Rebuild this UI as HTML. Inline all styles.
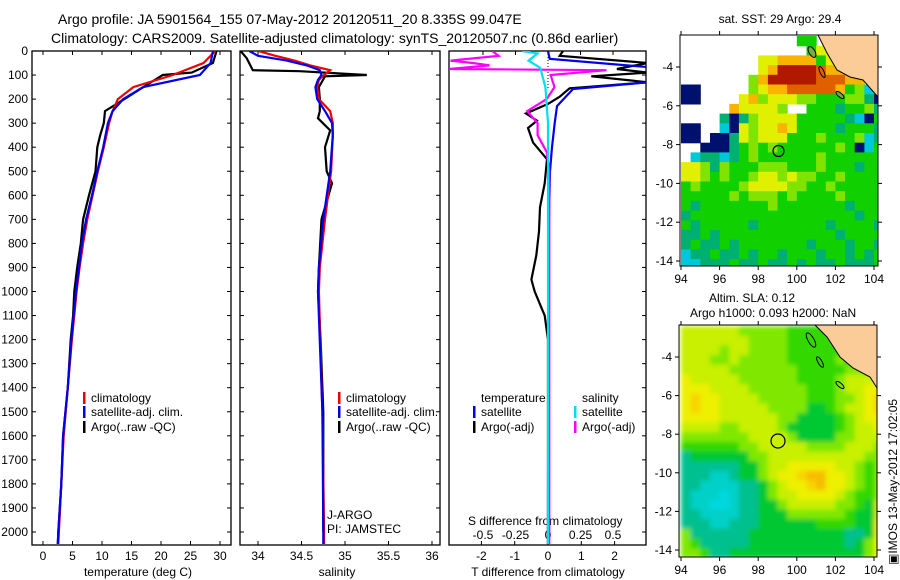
<!DOCTYPE html>
<html><head><meta charset="utf-8"><style>
html,body{margin:0;padding:0;background:#fff}
svg{display:block;font-family:"Liberation Sans",sans-serif;font-size:12px}
</style></head><body>
<svg id="s" width="900" height="580" viewBox="0 0 900 580">
<defs>
<clipPath id="c1"><rect x="32" y="51" width="199" height="494"/></clipPath>
<clipPath id="c2"><rect x="240" y="51" width="200" height="494"/></clipPath>
<clipPath id="c3"><rect x="449" y="51" width="197" height="494"/></clipPath>
<clipPath id="cm1"><rect x="680" y="35" width="198" height="231"/></clipPath>
<clipPath id="cm2"><rect x="679" y="325" width="198" height="232"/></clipPath>
<filter id="bl"><feGaussianBlur stdDeviation="2.5"/></filter>
</defs>
<text x="58" y="24" style="font-size:14px">Argo profile: JA 5901564_155 07-May-2012 20120511_20 8.335S 99.047E</text>
<text x="51" y="43" style="font-size:14px">Climatology: CARS2009. Satellite-adjusted climatology: synTS_20120507.nc (0.86d earlier)</text>
<text x="780" y="23" text-anchor="middle">sat. SST: 29 Argo: 29.4</text>
<text x="709" y="302">Altim. SLA: 0.12</text>
<text x="690" y="317">Argo h1000: 0.093 h2000: NaN</text>
<text transform="translate(897,565) rotate(-90)">&#9635;IMOS 13-May-2012 17:02:05</text>
<g id="g"></g>
</svg>
<script>
const tDepth=[0,50,100,150,200,250,300,400,500,600,700,800,900,1000,1200,1400,1600,1800,2000,2050];
const tClim=[29.2,27.2,22,15.3,12.7,11.8,11.2,10.3,9.3,8.4,7.5,6.8,6.2,5.7,4.9,4.2,3.5,3.1,2.7,2.6];
const tSat=[28.8,28.4,26.6,17,13.6,11.8,11,10.2,9.2,8.3,7.3,6.6,6.1,5.6,4.8,4.2,3.4,3.1,2.6,2.5];
const tArgoDepth=[0,50,90,100,150,200,250,300,350,400,500,600,700,800,900,1000,1100,1200,1400,1600,1800,2000,2050];
const tArgo=[29.4,28.8,25.2,20.3,17,13.8,10.5,10.3,9.7,9.2,8.9,7.8,6.8,6.4,5.8,5.3,5.1,4.7,4.2,3.4,3.1,2.6,2.5];
const sDepth=[0,20,40,60,80,100,120,150,200,250,300,350,500,700,900,1000,1500,2000,2050];
const sSat=[33.9,34.0,34.33,34.56,34.71,34.73,34.69,34.66,34.68,34.77,34.85,34.86,34.83,34.75,34.7,34.69,34.74,34.75,34.75];
const sClim=[34.0,34.2,34.42,34.6,34.83,34.76,34.7,34.68,34.7,34.83,34.86,34.86,34.84,34.77,34.71,34.7,34.74,34.76,34.76];
const sArgoDepth=[0,30,80,84,100,105,150,200,250,280,330,400,500,550,700,900,1000,1200,1500,2000];
const sArgo=[33.8,33.87,33.94,34.48,35.25,34.77,34.7,34.71,34.71,34.69,34.83,34.77,34.79,34.85,34.73,34.7,34.69,34.72,34.75,34.75];
const dtSatDepth=[0,33,67,130,158,229,300,400,500,700,1000,2050];
const dtSat=[0,0.05,3,3,0.75,0.27,0.2,0.12,0.06,0.03,0.01,0];
const dtArgoDepth=[0,20,50,75,90,105,130,155,190,220,260,290,320,380,450,550,650,750,850,950,1000,1100,1200,1500,2050];
const dtArgo=[0.45,0.35,3,2.07,3,1.3,3,0.65,0.35,0,-0.66,-0.33,-0.6,-0.45,-0.03,-0.1,-0.24,-0.27,-0.35,-0.5,-0.4,-0.1,0,0,0];
const dsSatDepth=[0,10,40,70,150,300,2050];
const dsSat=[-0.2,-0.08,-0.15,-0.06,-0.02,0,0];
const dsArgoDepth=[0,20,40,50,60,75,80,100,150,200,250,300,350,420,500,2050];
const dsArgo=[-0.43,-0.38,-0.75,-0.58,-0.45,-0.76,0.45,0.02,0.05,-0.01,-0.16,-0.08,-0.08,-0.01,0.01,0.01];
const depthTicks=[0,100,200,300,400,500,600,700,800,900,1000,1100,1200,1300,1400,1500,1600,1700,1800,1900,2000];
const tTicks=[0,5,10,15,20,25,30];
const sTicks=[34,34.5,35,35.5,36];
const dtTicks=[-2,-1,0,1,2];
const dsTicks=[-0.5,-0.25,0,0.25,0.5];
const lonTicks=[94,96,98,100,102,104];
const latTicks=[-4,-6,-8,-10,-12,-14];
const sstRows=[
"............gg.......",
".............gyyo....",
"........yyoooogyoo...",
"........yoRRRRroooo..",
".......loRRRRRrrroo..",
"NN.....lyoorrrrroglcl",
"NN....yolyyyllggglltN",
".....oyyyyl..gggtgglt",
"....tNtlyyyygggggtcNg",
"NN..cNylyyoyggggtgggt",
"NN.NNtylyyyggglggglct",
"..NNNtglglgggggglgNcg",
".cttctglgggggglgggggg",
"yyltlggglllggglgggtgg",
"yylglgglyylyllgglgggg",
"glgggglyyyyllgglggggg",
"ggggglglllglgggglgggg",
"gtggggggglgggggggtggg",
"tgggggggggggggggggtgg",
"gtgggggtgggggggtggggt",
"ttgtggggggggggggtgggg",
"tgttgtgggggggtgggtggt",
"cttgttgtggtgggtggtgtg",
"cctttgttgttgtgttgtttg"];
const slaRows=[
"YYYYYYlllllgggggg....",
"YYYYYYYllllgggggggg..",
"YYYYlYYllllgggggggg..",
"YYYllYlllllggggglgg..",
"YYYYYlllllllggggglll.",
"yYYYYYllllllgggglYYY.",
"yyyYYYYllllllggglYYyy",
"yoyyYYYYlllllgggllYyo",
"yoyyYYYYYllllGGglYYyo",
"yyyyYYYYYYllGGGGglYyy",
"YYYYllYYYYlGGGGGglYYy",
"lllllllYYYYlGGGGllYYY",
"ggggggllYYYYYllllYYYl",
"tGGGGGGllYYYYYYYYYYll",
"ttttttGGlYYyyyyyYYlgl",
"tttcctGGlYyyoOOyyYlgl",
"ttccccttGlYyyoOyyYlgl",
"tcccCcttGlYYyyyyYlggl",
"tccCCcttGGlYYYYYllgGY",
"ttccccttGGGllllllgGGY",
"tttcctttGGGGGGggggGGy",
"lttttttGGGGGGGGGGttGy",
"lgtttttGGGGGGGGGGtGly",
"llgttGGGGGGGGGGGGGGly"];
const sstCol={N:"#00106e",c:"#00c8d8",t:"#00b070",g:"#10d000",l:"#80e400",y:"#e0f000",o:"#f8b400",r:"#e06000",R:"#b01800"};
const slaCol={Y:"#c8f000",y:"#eef000",o:"#f8d400",O:"#f8bc00",l:"#80e800",g:"#30d800",G:"#00c830",t:"#00c090",c:"#00d0c8",C:"#00d8e0"};

const NS="http://www.w3.org/2000/svg";
const root=document.getElementById('g');
function mk(tag,at,parent){const e=document.createElementNS(NS,tag);for(const k in at)e.setAttribute(k,at[k]);(parent||root).appendChild(e);return e;}
const yD=d=>51+d*0.2405;
const xT=v=>43+v*5.9;
const xS=v=>258+(v-34)*87;
const xDT=v=>548+v*33.3;
const xDS=v=>548+v*130;
const lonX1=l=>681+(l-94)*19.3, latY1=l=>67+(-4-l)*19.4;
const lonX2=l=>681+(l-94)*19.3, latY2=l=>357+(-4-l)*19.3;

function panel(x,w,name){
  const r=mk('rect',{x:x,y:51,width:w,height:494,fill:'none',stroke:'#000','stroke-width':1.3});
  
  
}
panel(32,199,'temperature-panel');panel(240,200,'salinity-panel');panel(449,197,'difference-panel');

depthTicks.forEach(d=>{
  const y=yD(d);
  mk('line',{x1:32,x2:36,y1:y,y2:y,stroke:'#000'});
  mk('line',{x1:227,x2:231,y1:y,y2:y,stroke:'#000'});
  mk('line',{x1:240,x2:244,y1:y,y2:y,stroke:'#000'});
  mk('line',{x1:436,x2:440,y1:y,y2:y,stroke:'#000'});
  mk('line',{x1:642,x2:646,y1:y,y2:y,stroke:'#000'});
  const t=mk('text',{x:28,y:y+4,'text-anchor':'end'});t.textContent=d;
  
  
});
function xticks(ticks,fx,y,ty,name,top){
  ticks.forEach(v=>{const x=fx(v);
    mk('line',{x1:x,x2:x,y1:545,y2:541,stroke:'#000'});
    if(top)mk('line',{x1:x,x2:x,y1:51,y2:55,stroke:'#000'});
    const t=mk('text',{x:x,y:ty,'text-anchor':'middle'});t.textContent=v;
    
    
  });
}
xticks(tTicks,xT,545,560,'temperature-tick-label',true);
xticks(sTicks,xS,545,560,'salinity-tick-label',true);
xticks(dtTicks,xDT,545,560,'tdiff-tick-label',false);
dsTicks.forEach(v=>{const x=xDS(v);mk('line',{x1:x,x2:x,y1:51,y2:55,stroke:'#000'});
  const t=mk('text',{x:x,y:539,'text-anchor':'middle'});t.textContent=v;
  
  });
function lbl(x,y,s,name,anchor){const t=mk('text',{x:x,y:y,'text-anchor':anchor||'start'});t.textContent=s;
  
  return t;}
lbl(138,576,'temperature (deg C)','x-axis-title-temperature','middle');
lbl(337,576,'salinity','x-axis-title-salinity','middle');
lbl(548,576,'T difference from climatology','x-axis-title-tdiff','middle');
lbl(468,525,'S difference from climatology','sdiff-axis-title');
lbl(327,519,'J-ARGO','float-program-label');
lbl(327,533,'PI: JAMSTEC','float-pi-label');
mk('line',{x1:548,x2:548,y1:51,y2:90,stroke:'#000','stroke-dasharray':'1,2'});

function series(ds,vs,fx,color,clip,name){
  const p=ds.map((d,i)=>fx(vs[i]).toFixed(1)+','+yD(d).toFixed(1)).join(' ');
  const e=mk('polyline',{points:p,fill:'none',stroke:color,'stroke-width':2.2,'clip-path':'url(#'+clip+')'});
  
  
}
series(tArgoDepth,tArgo,xT,'#000','c1','temp-argo-line');
series(tDepth,tClim,xT,'#f00000','c1','temp-climatology-line');
series(tDepth,tSat,xT,'#0000f0','c1','temp-satellite-line');
series(sArgoDepth,sArgo,xS,'#000','c2','sal-argo-line');
series(sDepth,sClim,xS,'#f00000','c2','sal-climatology-line');
series(sDepth,sSat,xS,'#0000f0','c2','sal-satellite-line');
series(dtArgoDepth,dtArgo,xDT,'#000','c3','tdiff-argo-line');
series(dtSatDepth,dtSat,xDT,'#0000f0','c3','tdiff-satellite-line');
series(dsArgoDepth,dsArgo,xDS,'#ff00ff','c3','sdiff-argo-line');
series(dsSatDepth,dsSat,xDS,'#00e0e8','c3','sdiff-satellite-line');

function legend(x,y,color,text,name){
  mk('rect',{x:x,y:y-10,width:2.5,height:12,fill:color});
  lbl(x+8,y,text,name);
}
legend(83,402,'#f00000','climatology','legend-temp-climatology');
legend(83,416,'#0000f0','satellite-adj. clim.','legend-temp-satellite');
legend(83,431,'#000','Argo(..raw -QC)','legend-temp-argo');
legend(338,402,'#f00000','climatology','legend-sal-climatology');
legend(338,416,'#0000f0','satellite-adj. clim.','legend-sal-satellite');
legend(338,431,'#000','Argo(..raw -QC)','legend-sal-argo');
lbl(481,402,'temperature','legend-temperature-header');
lbl(582,402,'salinity','legend-salinity-header');
legend(473,416,'#0000f0','satellite','legend-tdiff-satellite');
legend(473,431,'#000','Argo(-adj)','legend-tdiff-argo');
legend(574,416,'#00e0e8','satellite','legend-sdiff-satellite');
legend(574,431,'#ff00ff','Argo(-adj)','legend-sdiff-argo');

function map(rows,cols,clip,lx,ly,bx,by,bw,bh,name,blur){
  const g=mk('g',{'clip-path':'url(#'+clip+')'});
  
  
  const inner=mk('g',blur?{filter:'url(#bl)'}:{},g);
  rows.forEach((row,j)=>{[...row].forEach((ch,i)=>{
    if(!cols[ch])return;
    const lon=94+i*0.5, lat=-2.4-j*0.5;
    const x0=lx(lon),x1=lx(lon+0.5),y0=ly(lat),y1=ly(lat-0.5);
    mk('rect',{x:x0.toFixed(1),y:y0.toFixed(1),width:(x1-x0+0.6).toFixed(1),height:(y1-y0+0.6).toFixed(1),fill:cols[ch]},inner);
  });});
  return g;
}
const m1=map(sstRows,sstCol,'cm1',lonX1,latY1,680,35,198,231,'sst-map',false);
mk('polygon',{points:'818,35 827,53 837,70 850,77 863,80 878,97 878,35',fill:'#fccc98',stroke:'#000','stroke-width':1},m1);
mk('ellipse',{cx:812,cy:52,rx:3,ry:6,fill:'#7a4',stroke:'#000',transform:'rotate(-30 812 52)'},m1);
mk('ellipse',{cx:822,cy:72,rx:2,ry:6,fill:'none',stroke:'#000',transform:'rotate(-25 822 72)'},m1);
mk('ellipse',{cx:840,cy:95,rx:2,ry:5,fill:'#7a4',stroke:'#000',transform:'rotate(-50 840 95)'},m1);
mk('circle',{cx:778.5,cy:151,r:5.5,fill:'none',stroke:'#000','stroke-width':1.2},m1);
const m2=map(slaRows,slaCol,'cm2',lonX2,latY2,679,325,198,232,'sla-map',true);
mk('polygon',{points:'815,325 827,337 840,357 853,368 870,377 877,388 877,325',fill:'#fccc98',stroke:'#000','stroke-width':1},m2);
mk('ellipse',{cx:811,cy:340,rx:3,ry:8,fill:'none',stroke:'#000',transform:'rotate(-30 811 340)'},m2);
mk('ellipse',{cx:820,cy:362,rx:2,ry:6,fill:'none',stroke:'#000',transform:'rotate(-30 820 362)'},m2);
mk('ellipse',{cx:840,cy:385,rx:2,ry:5,fill:'none',stroke:'#000',transform:'rotate(-50 840 385)'},m2);
mk('circle',{cx:778,cy:441,r:7,fill:'none',stroke:'#000','stroke-width':1.2},m2);
function mapAxes(lx,ly,bx,by,bw,bh,pre){
  mk('rect',{x:bx,y:by,width:bw,height:bh,fill:'none',stroke:'#000','stroke-width':1});
  lonTicks.forEach(l=>{const x=lx(l);mk('line',{x1:x,x2:x,y1:by+bh,y2:by+bh+4,stroke:'#000'});mk('line',{x1:x,x2:x,y1:by,y2:by-4,stroke:'#000'});
    lbl(x,by+bh+17,String(l),pre+'-lon-label','middle');});
  latTicks.forEach(l=>{const y=ly(l);mk('line',{x1:bx,x2:bx-4,y1:y,y2:y,stroke:'#000'});mk('line',{x1:bx+bw,x2:bx+bw+4,y1:y,y2:y,stroke:'#000'});
    lbl(bx-7,y+4,String(l),pre+'-lat-label','end');});
}
mapAxes(lonX1,latY1,680,35,198,231,'sst');
mapAxes(lonX2,latY2,679,325,198,232,'sla');
</script>
</body></html>
